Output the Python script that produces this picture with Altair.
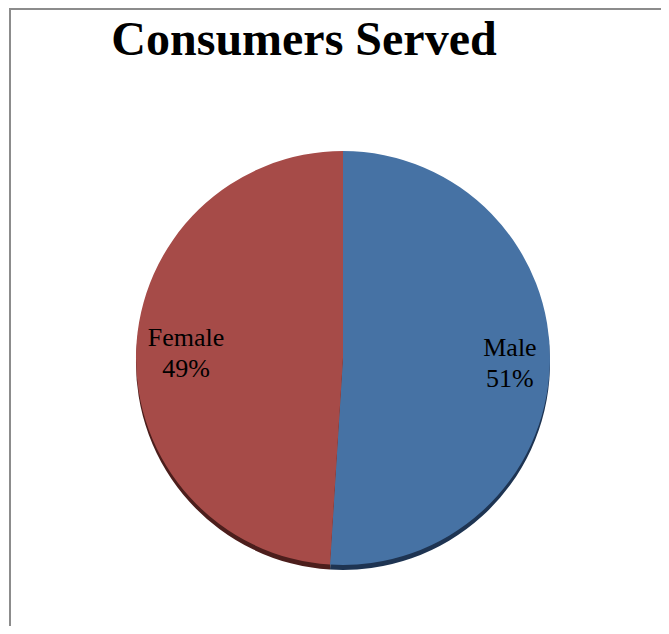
import altair as alt
import pandas as pd

categories = ["Male", "Female"]
shares = [51, 49]
order = [1, 2]
colors = ["#4672A4", "#A64B48"]
shadow_colors = ["#1E3452", "#4C1E1C"]
title_text = "Consumers Served"

df = pd.DataFrame({"category": categories, "share": shares, "order": order})
df["label"] = df["category"] + "\n" + df["share"].astype(str) + "%"

W, H = 653, 618
cx, cy = 335, 350
R = 207

base = alt.Chart(df).encode(
    theta=alt.Theta("share:Q", stack=True),
    order=alt.Order("order:Q"),
)

shadow = base.mark_arc(radius=R).encode(
    x=alt.value(cx),
    y=alt.value(cy + 5),
    color=alt.Color("category:N", scale=alt.Scale(domain=categories, range=shadow_colors), legend=None),
)

pie = base.mark_arc(radius=R).encode(
    x=alt.value(cx),
    y=alt.value(cy),
    color=alt.Color("category:N", scale=alt.Scale(domain=categories, range=colors), legend=None),
)

labels = base.mark_text(
    radius=162, fontSize=26, font="Liberation Serif", lineBreak="\n",
    lineHeight=31, color="black", align="center", baseline="middle",
    dx=5, dy=-15,
).encode(x=alt.value(cx), y=alt.value(cy), text="label:N")

one = pd.DataFrame({"a": [0]})
border_left = alt.Chart(one).mark_rule(color="#8c8c8c", strokeWidth=2).encode(
    x=alt.value(2), y=alt.value(0), y2=alt.value(H)
)
border_top = alt.Chart(one).mark_rule(color="#8c8c8c", strokeWidth=2).encode(
    x=alt.value(2), x2=alt.value(W), y=alt.value(1)
)

title = alt.Chart(one).mark_text(
    fontSize=48, font="Liberation Serif", fontWeight="bold", color="black",
    align="center", baseline="alphabetic",
).encode(x=alt.value(296), y=alt.value(47), text=alt.value(title_text))

chart = (
    alt.layer(border_left, border_top, shadow, pie, labels, title)
    .resolve_scale(color="independent")
    .properties(width=W, height=H, padding=0, autosize=alt.AutoSizeParams(type="none"))
    .configure_view(stroke=None)
)

chart.save("out.html", embed_options={"renderer": "svg", "actions": False})
